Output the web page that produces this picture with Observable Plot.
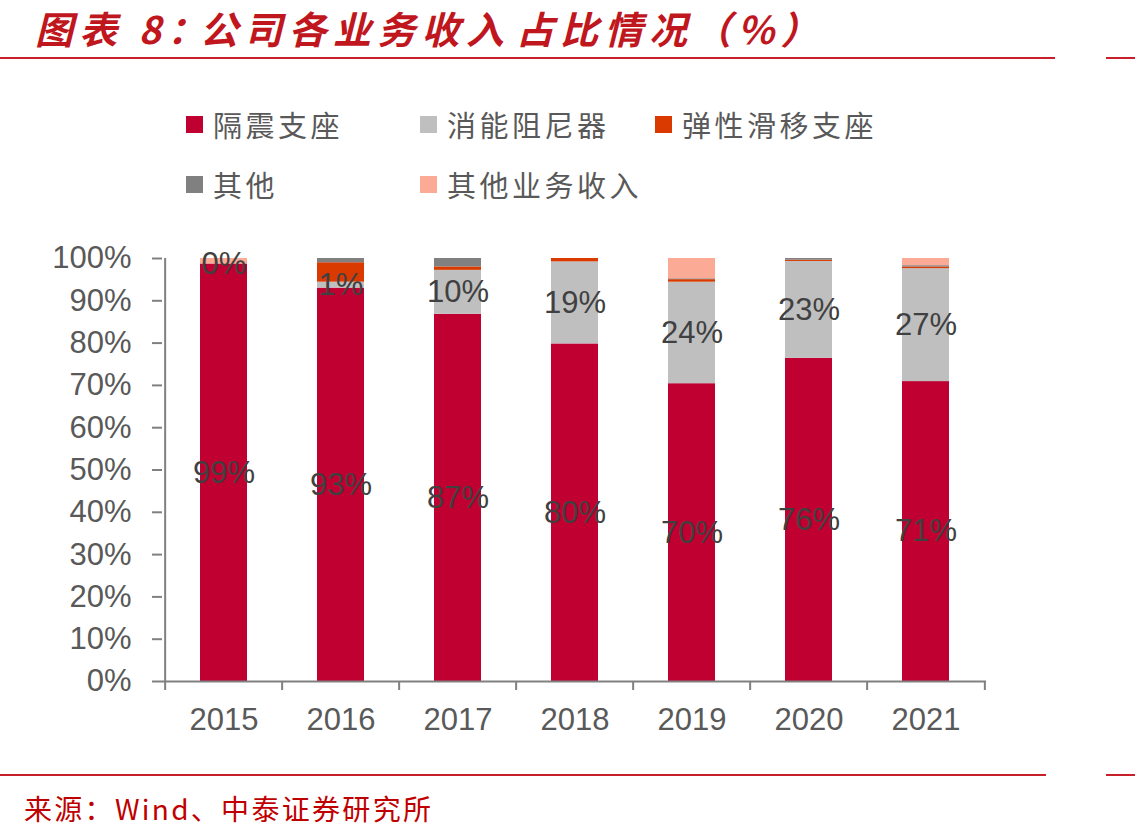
<!DOCTYPE html>
<html>
<head>
<meta charset="utf-8">
<script src="https://cdn.jsdelivr.net/npm/d3@7"></script>
<script src="https://cdn.jsdelivr.net/npm/@observablehq/plot@0.6"></script>
<style>
  body { margin: 0; background: #fff; }
  #page { position: relative; width: 1135px; height: 840px; overflow: hidden; background: #fff; }
  .title span {
    position: absolute; top: 0px; line-height: normal;
    font-family: "Noto Sans CJK SC", sans-serif; font-weight: 700; font-style: italic;
    font-size: 38px; letter-spacing: 6.3px; color: #C0161E; white-space: nowrap;
  }
  .hr { position: absolute; height: 2px; background: #C8202A; }
  .legend-item {
    position: absolute; display: flex; align-items: center; white-space: nowrap;
    font-family: "Noto Sans CJK SC", sans-serif; font-size: 29px; letter-spacing: 3.5px; color: #595959;
  }
  .legend-item .sw { width: 17px; height: 17px; margin-right: 10px; }
  .source {
    position: absolute; left: 24px; top: 788px;
    font-family: "Noto Sans CJK SC", sans-serif; font-size: 28px; letter-spacing: 2.3px;
    color: #C00000; white-space: nowrap;
  }
  #chart { position: absolute; left: 0; top: 200px; }
</style>
</head>
<body>
<div id="page">
  <div class="title"><span style="left:35px">图表 8：</span><span style="left:200px">公司各业务收入</span><span style="left:516px">占比情况（%）</span></div>
  <div class="hr" style="top:57px; left:0; width:1055px"></div>
  <div class="hr" style="top:57px; left:1106px; width:29px"></div>
  <div id="legend"></div>
  <div id="chart"></div>
  <div class="hr" style="top:774px; left:0; width:1046px"></div>
  <div class="hr" style="top:774px; left:1106px; width:29px"></div>
  <div class="source">来源：Wind、中泰证券研究所</div>
</div>
<script>
// Years on the x axis
const years = ["2015", "2016", "2017", "2018", "2019", "2020", "2021"];

// Business lines, stacked bottom to top
const seriesNames = ["隔震支座", "消能阻尼器", "弹性滑移支座", "其他", "其他业务收入"];
const seriesColors = ["#BF0030", "#BFBFBF", "#DA3A00", "#808080", "#FBAA96"];

// Revenue share of each business line (%)
const isolationBearing = [98.7, 93.0, 86.8, 79.8, 70.4, 76.4, 70.9];
const damper           = [0.0, 1.4, 10.4, 19.4, 24.0, 22.9, 26.7];
const slidingBearing   = [0.0, 4.6, 0.8, 0.8, 0.6, 0.3, 0.4];
const otherProducts    = [0.0, 1.0, 2.0, 0.0, 0.2, 0.4, 0.3];
const otherBusiness    = [1.3, 0.0, 0.0, 0.0, 4.8, 0.0, 1.7];

// Which series carry a value label inside the bar
const labelledSeries = ["隔震支座", "消能阻尼器"];

const seriesValues = [isolationBearing, damper, slidingBearing, otherProducts, otherBusiness];
const rows = [];
years.forEach((year, i) => {
  seriesNames.forEach((name, s) => {
    rows.push({year, series: name, value: seriesValues[s][i]});
  });
});

// Legend: three items on the first row, two on the second
const legendPos = [[186, 103], [420, 103], [655, 103], [186, 163], [420, 163]];
const legend = document.getElementById("legend");
seriesNames.forEach((name, i) => {
  const item = document.createElement("div");
  item.className = "legend-item";
  item.style.left = legendPos[i][0] + "px";
  item.style.top = legendPos[i][1] + "px";
  item.innerHTML = `<span class="sw" style="background:${seriesColors[i]}"></span><span>${name}</span>`;
  legend.appendChild(item);
});

const W = 1135, H = 560;
const mL = 162, mR = 149, mT = 58, mB = 79;
const step = (W - mL - mR) / years.length;
const axisGray = "#808080";

const chart = Plot.plot({
  width: W,
  height: H,
  marginLeft: mL,
  marginRight: mR,
  marginTop: mT,
  marginBottom: mB,
  style: {background: "transparent", fontFamily: "'Liberation Sans', Arial, sans-serif"},
  x: {domain: years, paddingInner: 0.6, paddingOuter: 0.3, label: null},
  y: {domain: [0, 100], label: null},
  color: {domain: seriesNames, range: seriesColors},
  marks: [
    Plot.barY(rows, {x: "year", y: "value", fill: "series"}),
    // value labels, centred in their segment
    Plot.text(rows, Plot.stackY({
      x: "year", y: "value", z: "series",
      text: d => labelledSeries.includes(d.series) ? `${Math.round(d.value)}%` : null,
      fontSize: 31, fill: "#404040"
    })),
    // axis lines
    Plot.ruleY([0], {stroke: axisGray, strokeWidth: 2}),
    Plot.ruleX([years[0]], {x: d => d, dx: -step / 2, y1: 0, y2: 100, stroke: axisGray, strokeWidth: 2}),
    // category boundary ticks below the x axis
    Plot.ruleX(years, {x: d => d, dx: -step / 2, y1: 0, y2: 0, insetBottom: -9, stroke: axisGray, strokeWidth: 2}),
    Plot.ruleX([years[years.length - 1]], {x: d => d, dx: step / 2, y1: 0, y2: 0, insetBottom: -9, stroke: axisGray, strokeWidth: 2}),
    Plot.axisY({
      ticks: d3.range(0, 101, 10), tickFormat: d => `${d}%`,
      tickSize: 10, tickPadding: 21, fontSize: 31,
      stroke: axisGray, strokeWidth: 2, fill: "#595959"
    }),
    Plot.axisX({tickSize: 0, tickPadding: 26, fontSize: 31, fill: "#595959"})
  ]
});
document.getElementById("chart").appendChild(chart);
</script>
</body>
</html>
